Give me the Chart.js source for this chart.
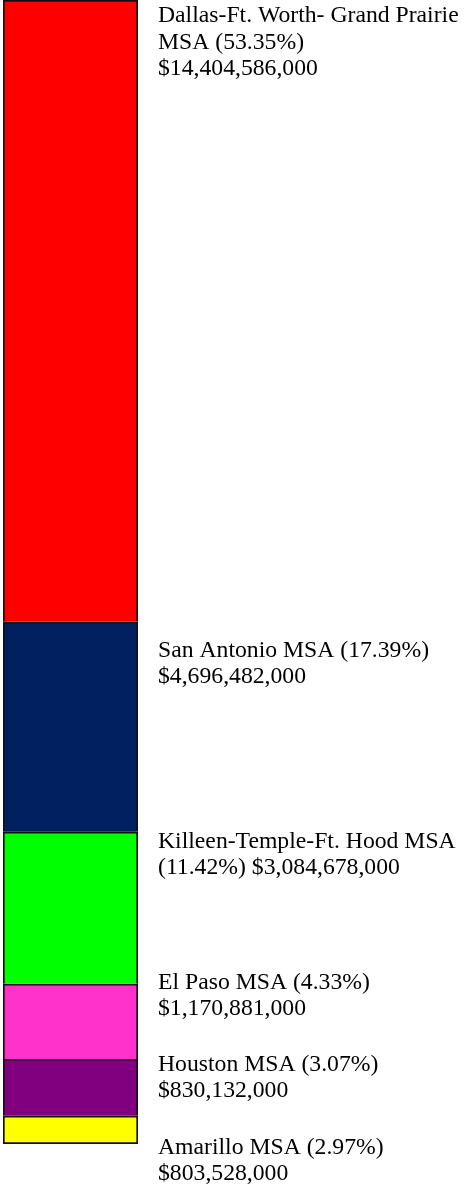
<!DOCTYPE html>
<html>
<head>
<meta charset="utf-8">
<script src="https://cdn.jsdelivr.net/npm/chart.js@4.4.0/dist/chart.umd.min.js"></script>
<style>
  html, body { margin: 0; padding: 0; background: #fff; }
  #wrap { width: 466px; height: 1188px; position: relative; }
</style>
</head>
<body>
<div id="wrap"><canvas id="msaChart"></canvas></div>
<script>
// Data (top of the bar to bottom)
const areas = ['Dallas-Ft. Worth- Grand Prairie MSA', 'San Antonio MSA', 'Killeen-Temple-Ft. Hood MSA', 'El Paso MSA', 'Houston MSA', 'Amarillo MSA'];
const percents = ['53.35', '17.39', '11.42', '4.33', '3.07', '2.97'];
const dollars = ['$14,404,586,000', '$4,696,482,000', '$3,084,678,000', '$1,170,881,000', '$830,132,000', '$803,528,000'];
// share of the bar each segment takes as drawn in the picture (%)
const drawnShare = [54.35, 18.36, 13.29, 6.56, 4.98, 2.45];

const colors = ['#ff0000', '#00205f', '#00ff00', '#ff33cc', '#800080', '#ffff00'];

// Label placement: first baseline below the segment top (px)
const labelOffsets = [22, 35, 16, 5, 12, 38];

const labelPlugin = {
  id: 'sideLabels',
  afterDraw(chart) {
    const ctx = chart.ctx;
    const x = 158;
    const maxW = chart.width - x - 1;
    ctx.save();
    ctx.font = '23.7px "Liberation Serif", "Times New Roman", serif';
    ctx.fillStyle = '#000';
    ctx.textBaseline = 'alphabetic';
    areas.forEach((name, i) => {
      const bar = chart.getDatasetMeta(i).data[0];
      const top = Math.min(bar.y, bar.base);
      const words = (name + ' (' + percents[i] + '%) ' + dollars[i]).split(' ');
      const lines = [];
      let line = '';
      words.forEach(w => {
        const test = line ? line + ' ' + w : w;
        if (line && ctx.measureText(test).width > maxW) {
          lines.push(line);
          line = w;
        } else {
          line = test;
        }
      });
      lines.push(line);
      lines.forEach((l, j) => {
        ctx.fillText(l, x, top + labelOffsets[i] + j * 26.5);
      });
    });
    ctx.restore();
  }
};

const last = areas.length - 1;
new Chart(document.getElementById('msaChart'), {
  type: 'bar',
  data: {
    labels: ['MSA'],
    datasets: areas.map((name, i) => ({
      label: name,
      data: [drawnShare[i]],
      backgroundColor: colors[i],
      borderColor: '#111',
      borderWidth: { top: 2, left: 2, right: 2, bottom: i === last ? 2 : 0 },
      borderSkipped: false,
      barPercentage: 1,
      categoryPercentage: 1
    }))
  },
  options: {
    responsive: true,
    maintainAspectRatio: false,
    animation: false,
    layout: { padding: { left: 3, right: 328, top: 0, bottom: 44 } },
    scales: {
      x: { stacked: true, display: false },
      y: { stacked: true, display: false, reverse: true, min: 0, max: 100 }
    },
    plugins: {
      legend: { display: false },
      tooltip: { enabled: false }
    }
  },
  plugins: [labelPlugin]
});
</script>
</body>
</html>
